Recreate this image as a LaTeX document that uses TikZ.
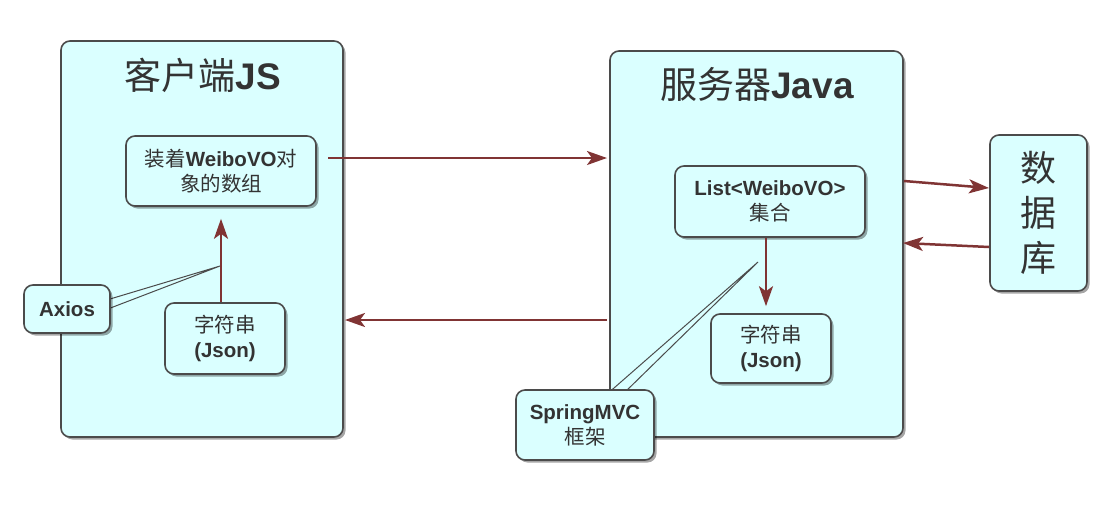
\documentclass[tikz,border=0pt]{standalone}
\usepackage{fontspec}
\setmainfont{Noto Sans CJK SC}
\newfontfamily\latf{Liberation Sans}
\newcommand\lb[1]{{\latf\bfseries #1}}
\usetikzlibrary{shadows,arrows.meta,calc}
\definecolor{boxfill}{RGB}{218,255,255}
\definecolor{boxline}{RGB}{75,75,75}
\definecolor{arrc}{RGB}{128,52,52}
\definecolor{txt}{RGB}{51,51,51}
\begin{document}
\begin{tikzpicture}[x=1pt,y=-1pt,
  panel/.style={draw=boxline, line width=1.6pt, fill=boxfill, rounded corners=9pt,
    drop shadow={shadow xshift=2.5pt, shadow yshift=-2.5pt, opacity=0.35, fill=black},
    inner sep=0pt, text=txt, align=center},
  small/.style={panel, font=\fontsize{20.5}{25}\selectfont},
  ttl/.style={text=txt, font=\fontsize{37}{40}\selectfont, inner sep=0pt},
  callout/.style={draw=boxline, line width=1pt, fill=boxfill},
  arr/.style={draw=arrc, line width=2.5pt, -{Stealth[length=20pt,width=14pt,inset=5pt]}}]
\useasboundingbox (0,0) rectangle (1096,509);

% panels
\node[panel, minimum width=282pt, minimum height=396pt] (client) at (202,239) {};
\node[ttl] (ctitle) at (203,75) {客户端\lb{JS}};
\node[panel, minimum width=293pt, minimum height=386pt] (server) at (756.5,244) {};
\node[ttl] (stitle) at (757,84) {服务器\lb{Java}};

% callout pointers
\coordinate (axp) at (220,266);
\coordinate (spp) at (758,262);
\filldraw[callout] (100,302) -- (axp) -- (100,312) -- cycle;
\filldraw[callout] (606,395) -- (spp) -- (622,395) -- cycle;

% inner boxes
\node[small, minimum width=190pt, minimum height=70pt] (arr1) at (221,171) {装着\lb{WeiboVO}对\\象的数组};
\node[small, minimum width=120pt, minimum height=71pt] (json1) at (225,338.5) {字符串\\\lb{(Json)}};
\node[small, minimum width=86pt, minimum height=48pt] (axios) at (67,309) {\lb{Axios}};
\node[small, minimum width=190pt, minimum height=71pt] (list) at (770,201.5) {\lb{List<WeiboVO>}\\集合};
\node[small, minimum width=120pt, minimum height=69pt] (json2) at (771,348.5) {字符串\\\lb{(Json)}};
\node[small, minimum width=138pt, minimum height=70pt] (spring) at (585,425) {\lb{SpringMVC}\\框架};
\node[panel, minimum width=97pt, minimum height=156pt, font=\fontsize{36}{45}\selectfont] (db) at (1038.5,213) {数\\据\\库};

% connectors
\draw[arr] (arr1.south |- json1.north) -- ([yshift=-12pt]arr1.south);
\draw[arr] ([xshift=-4pt]list.south) -- ([xshift=-4pt,yshift=7pt]list.south |- json2.north);

\coordinate (c2s) at (328,158);
\coordinate (c2e) at (607,158);
\draw[arr] (c2s) -- (c2e);
\coordinate (s2cs) at (607,320);
\coordinate (s2ce) at (345,320);
\draw[arr] (s2cs) -- (s2ce);
\coordinate (s2ds) at (904,181);
\coordinate (s2de) at (989,188);
\draw[arr] (s2ds) -- (s2de);
\coordinate (d2ss) at (989,247);
\coordinate (d2se) at (903,243);
\draw[arr] (d2ss) -- (d2se);
\end{tikzpicture}
\end{document}
